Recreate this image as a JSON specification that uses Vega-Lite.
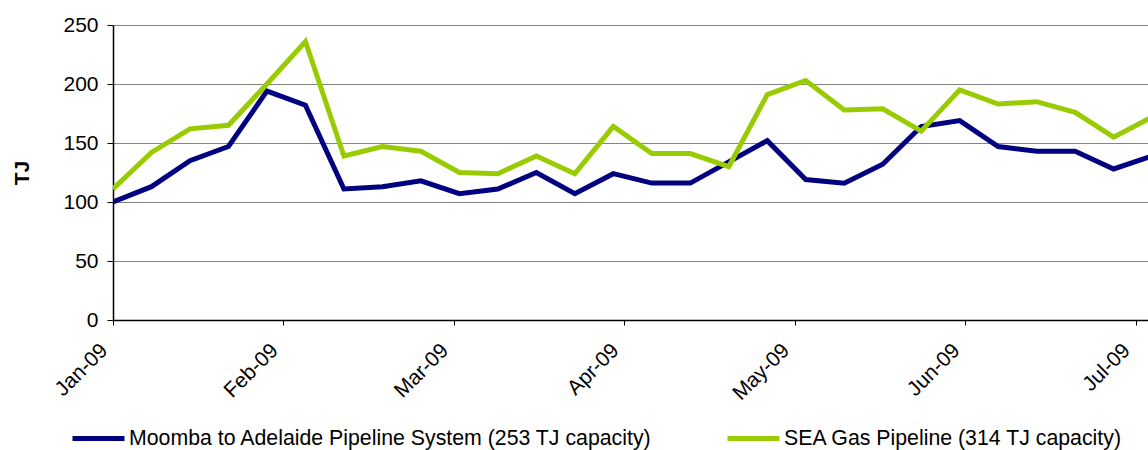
{
  "$schema": "https://vega.github.io/schema/vega-lite/v6.json",
  "width": 1035,
  "height": 295,
  "autosize": {"type": "none"},
  "padding": {"left": 113, "top": 25, "right": 0, "bottom": 130},
  "background": "white",
  "config": {
    "view": {"stroke": null},
    "font": "Liberation Sans"
  },
  "data": {
    "values": [
      {"week": "2009-01-01", "pipeline": "Moomba to Adelaide Pipeline System (253 TJ capacity)", "tj": 100},
      {"week": "2009-01-08", "pipeline": "Moomba to Adelaide Pipeline System (253 TJ capacity)", "tj": 113},
      {"week": "2009-01-15", "pipeline": "Moomba to Adelaide Pipeline System (253 TJ capacity)", "tj": 135},
      {"week": "2009-01-22", "pipeline": "Moomba to Adelaide Pipeline System (253 TJ capacity)", "tj": 147},
      {"week": "2009-01-29", "pipeline": "Moomba to Adelaide Pipeline System (253 TJ capacity)", "tj": 194},
      {"week": "2009-02-05", "pipeline": "Moomba to Adelaide Pipeline System (253 TJ capacity)", "tj": 182},
      {"week": "2009-02-12", "pipeline": "Moomba to Adelaide Pipeline System (253 TJ capacity)", "tj": 111},
      {"week": "2009-02-19", "pipeline": "Moomba to Adelaide Pipeline System (253 TJ capacity)", "tj": 113},
      {"week": "2009-02-26", "pipeline": "Moomba to Adelaide Pipeline System (253 TJ capacity)", "tj": 118},
      {"week": "2009-03-05", "pipeline": "Moomba to Adelaide Pipeline System (253 TJ capacity)", "tj": 107},
      {"week": "2009-03-12", "pipeline": "Moomba to Adelaide Pipeline System (253 TJ capacity)", "tj": 111},
      {"week": "2009-03-19", "pipeline": "Moomba to Adelaide Pipeline System (253 TJ capacity)", "tj": 125},
      {"week": "2009-03-26", "pipeline": "Moomba to Adelaide Pipeline System (253 TJ capacity)", "tj": 107},
      {"week": "2009-04-02", "pipeline": "Moomba to Adelaide Pipeline System (253 TJ capacity)", "tj": 124},
      {"week": "2009-04-09", "pipeline": "Moomba to Adelaide Pipeline System (253 TJ capacity)", "tj": 116},
      {"week": "2009-04-16", "pipeline": "Moomba to Adelaide Pipeline System (253 TJ capacity)", "tj": 116},
      {"week": "2009-04-23", "pipeline": "Moomba to Adelaide Pipeline System (253 TJ capacity)", "tj": 134},
      {"week": "2009-04-30", "pipeline": "Moomba to Adelaide Pipeline System (253 TJ capacity)", "tj": 152},
      {"week": "2009-05-07", "pipeline": "Moomba to Adelaide Pipeline System (253 TJ capacity)", "tj": 119},
      {"week": "2009-05-14", "pipeline": "Moomba to Adelaide Pipeline System (253 TJ capacity)", "tj": 116},
      {"week": "2009-05-21", "pipeline": "Moomba to Adelaide Pipeline System (253 TJ capacity)", "tj": 132},
      {"week": "2009-05-28", "pipeline": "Moomba to Adelaide Pipeline System (253 TJ capacity)", "tj": 164},
      {"week": "2009-06-04", "pipeline": "Moomba to Adelaide Pipeline System (253 TJ capacity)", "tj": 169},
      {"week": "2009-06-11", "pipeline": "Moomba to Adelaide Pipeline System (253 TJ capacity)", "tj": 147},
      {"week": "2009-06-18", "pipeline": "Moomba to Adelaide Pipeline System (253 TJ capacity)", "tj": 143},
      {"week": "2009-06-25", "pipeline": "Moomba to Adelaide Pipeline System (253 TJ capacity)", "tj": 143},
      {"week": "2009-07-02", "pipeline": "Moomba to Adelaide Pipeline System (253 TJ capacity)", "tj": 128},
      {"week": "2009-07-09", "pipeline": "Moomba to Adelaide Pipeline System (253 TJ capacity)", "tj": 139},
      {"week": "2009-01-01", "pipeline": "SEA Gas Pipeline (314 TJ capacity)", "tj": 111},
      {"week": "2009-01-08", "pipeline": "SEA Gas Pipeline (314 TJ capacity)", "tj": 142},
      {"week": "2009-01-15", "pipeline": "SEA Gas Pipeline (314 TJ capacity)", "tj": 162},
      {"week": "2009-01-22", "pipeline": "SEA Gas Pipeline (314 TJ capacity)", "tj": 165},
      {"week": "2009-01-29", "pipeline": "SEA Gas Pipeline (314 TJ capacity)", "tj": 200},
      {"week": "2009-02-05", "pipeline": "SEA Gas Pipeline (314 TJ capacity)", "tj": 236},
      {"week": "2009-02-12", "pipeline": "SEA Gas Pipeline (314 TJ capacity)", "tj": 139},
      {"week": "2009-02-19", "pipeline": "SEA Gas Pipeline (314 TJ capacity)", "tj": 147},
      {"week": "2009-02-26", "pipeline": "SEA Gas Pipeline (314 TJ capacity)", "tj": 143},
      {"week": "2009-03-05", "pipeline": "SEA Gas Pipeline (314 TJ capacity)", "tj": 125},
      {"week": "2009-03-12", "pipeline": "SEA Gas Pipeline (314 TJ capacity)", "tj": 124},
      {"week": "2009-03-19", "pipeline": "SEA Gas Pipeline (314 TJ capacity)", "tj": 139},
      {"week": "2009-03-26", "pipeline": "SEA Gas Pipeline (314 TJ capacity)", "tj": 124},
      {"week": "2009-04-02", "pipeline": "SEA Gas Pipeline (314 TJ capacity)", "tj": 164},
      {"week": "2009-04-09", "pipeline": "SEA Gas Pipeline (314 TJ capacity)", "tj": 141},
      {"week": "2009-04-16", "pipeline": "SEA Gas Pipeline (314 TJ capacity)", "tj": 141},
      {"week": "2009-04-23", "pipeline": "SEA Gas Pipeline (314 TJ capacity)", "tj": 130},
      {"week": "2009-04-30", "pipeline": "SEA Gas Pipeline (314 TJ capacity)", "tj": 191},
      {"week": "2009-05-07", "pipeline": "SEA Gas Pipeline (314 TJ capacity)", "tj": 203},
      {"week": "2009-05-14", "pipeline": "SEA Gas Pipeline (314 TJ capacity)", "tj": 178},
      {"week": "2009-05-21", "pipeline": "SEA Gas Pipeline (314 TJ capacity)", "tj": 179},
      {"week": "2009-05-28", "pipeline": "SEA Gas Pipeline (314 TJ capacity)", "tj": 160},
      {"week": "2009-06-04", "pipeline": "SEA Gas Pipeline (314 TJ capacity)", "tj": 195},
      {"week": "2009-06-11", "pipeline": "SEA Gas Pipeline (314 TJ capacity)", "tj": 183},
      {"week": "2009-06-18", "pipeline": "SEA Gas Pipeline (314 TJ capacity)", "tj": 185},
      {"week": "2009-06-25", "pipeline": "SEA Gas Pipeline (314 TJ capacity)", "tj": 176},
      {"week": "2009-07-02", "pipeline": "SEA Gas Pipeline (314 TJ capacity)", "tj": 155},
      {"week": "2009-07-09", "pipeline": "SEA Gas Pipeline (314 TJ capacity)", "tj": 172}
    ]
  },
  "mark": {"type": "line", "strokeWidth": 5, "clip": true},
  "encoding": {
    "x": {
      "field": "week",
      "type": "temporal",
      "scale": {
        "type": "utc",
        "domain": [
          {"year": 2009, "month": 1, "date": 1, "utc": true},
          {"year": 2009, "month": 7, "date": 8, "hours": 6, "utc": true}
        ]
      },
      "axis": {
        "title": null,
        "values": [
          {"year": 2009, "month": 1, "date": 1, "utc": true},
          {"year": 2009, "month": 2, "date": 1, "utc": true},
          {"year": 2009, "month": 3, "date": 4, "utc": true},
          {"year": 2009, "month": 4, "date": 4, "utc": true},
          {"year": 2009, "month": 5, "date": 5, "utc": true},
          {"year": 2009, "month": 6, "date": 5, "utc": true},
          {"year": 2009, "month": 7, "date": 6, "utc": true}
        ],
        "labelExpr": "utcFormat(datum.value, '%b-%y')",
        "grid": false,
        "domainColor": "#000000",
        "domainWidth": 1.5,
        "tickColor": "#000000",
        "tickWidth": 1,
        "tickSize": 5,
        "labelAngle": -45,
        "labelAlign": "right",
        "labelBaseline": "middle",
        "labelPadding": 22,
        "labelOffset": -9,
        "labelFontSize": 21,
        "labelColor": "#000000",
        "labelOverlap": false,
        "labelBound": false,
        "labelFlush": false
      }
    },
    "y": {
      "field": "tj",
      "type": "quantitative",
      "scale": {"domain": [0, 250], "nice": false, "zero": true},
      "axis": {
        "title": "TJ",
        "values": [0, 50, 100, 150, 200, 250],
        "grid": true,
        "gridColor": "#858585",
        "gridWidth": 1,
        "domainColor": "#000000",
        "domainWidth": 1.5,
        "tickColor": "#000000",
        "tickSize": 6,
        "labelPadding": 9,
        "labelFontSize": 21,
        "labelColor": "#000000",
        "titleFontSize": 21,
        "titleFontWeight": "bold",
        "titleColor": "#000000",
        "titleBaseline": "middle",
        "titleX": -91
      }
    },
    "color": {
      "field": "pipeline",
      "type": "nominal",
      "scale": {
        "domain": ["Moomba to Adelaide Pipeline System (253 TJ capacity)", "SEA Gas Pipeline (314 TJ capacity)"],
        "range": ["#000080", "#99CC00"]
      },
      "legend": {
        "title": null,
        "orient": "none",
        "direction": "horizontal",
        "legendX": -43,
        "legendY": 385,
        "padding": 0,
        "symbolType": "stroke",
        "symbolSize": 2704,
        "symbolStrokeWidth": 5,
        "labelFontSize": 21.3,
        "labelColor": "#000000",
        "labelOffset": 2,
        "labelLimit": 1000,
        "columnPadding": 64
      }
    }
  }
}
